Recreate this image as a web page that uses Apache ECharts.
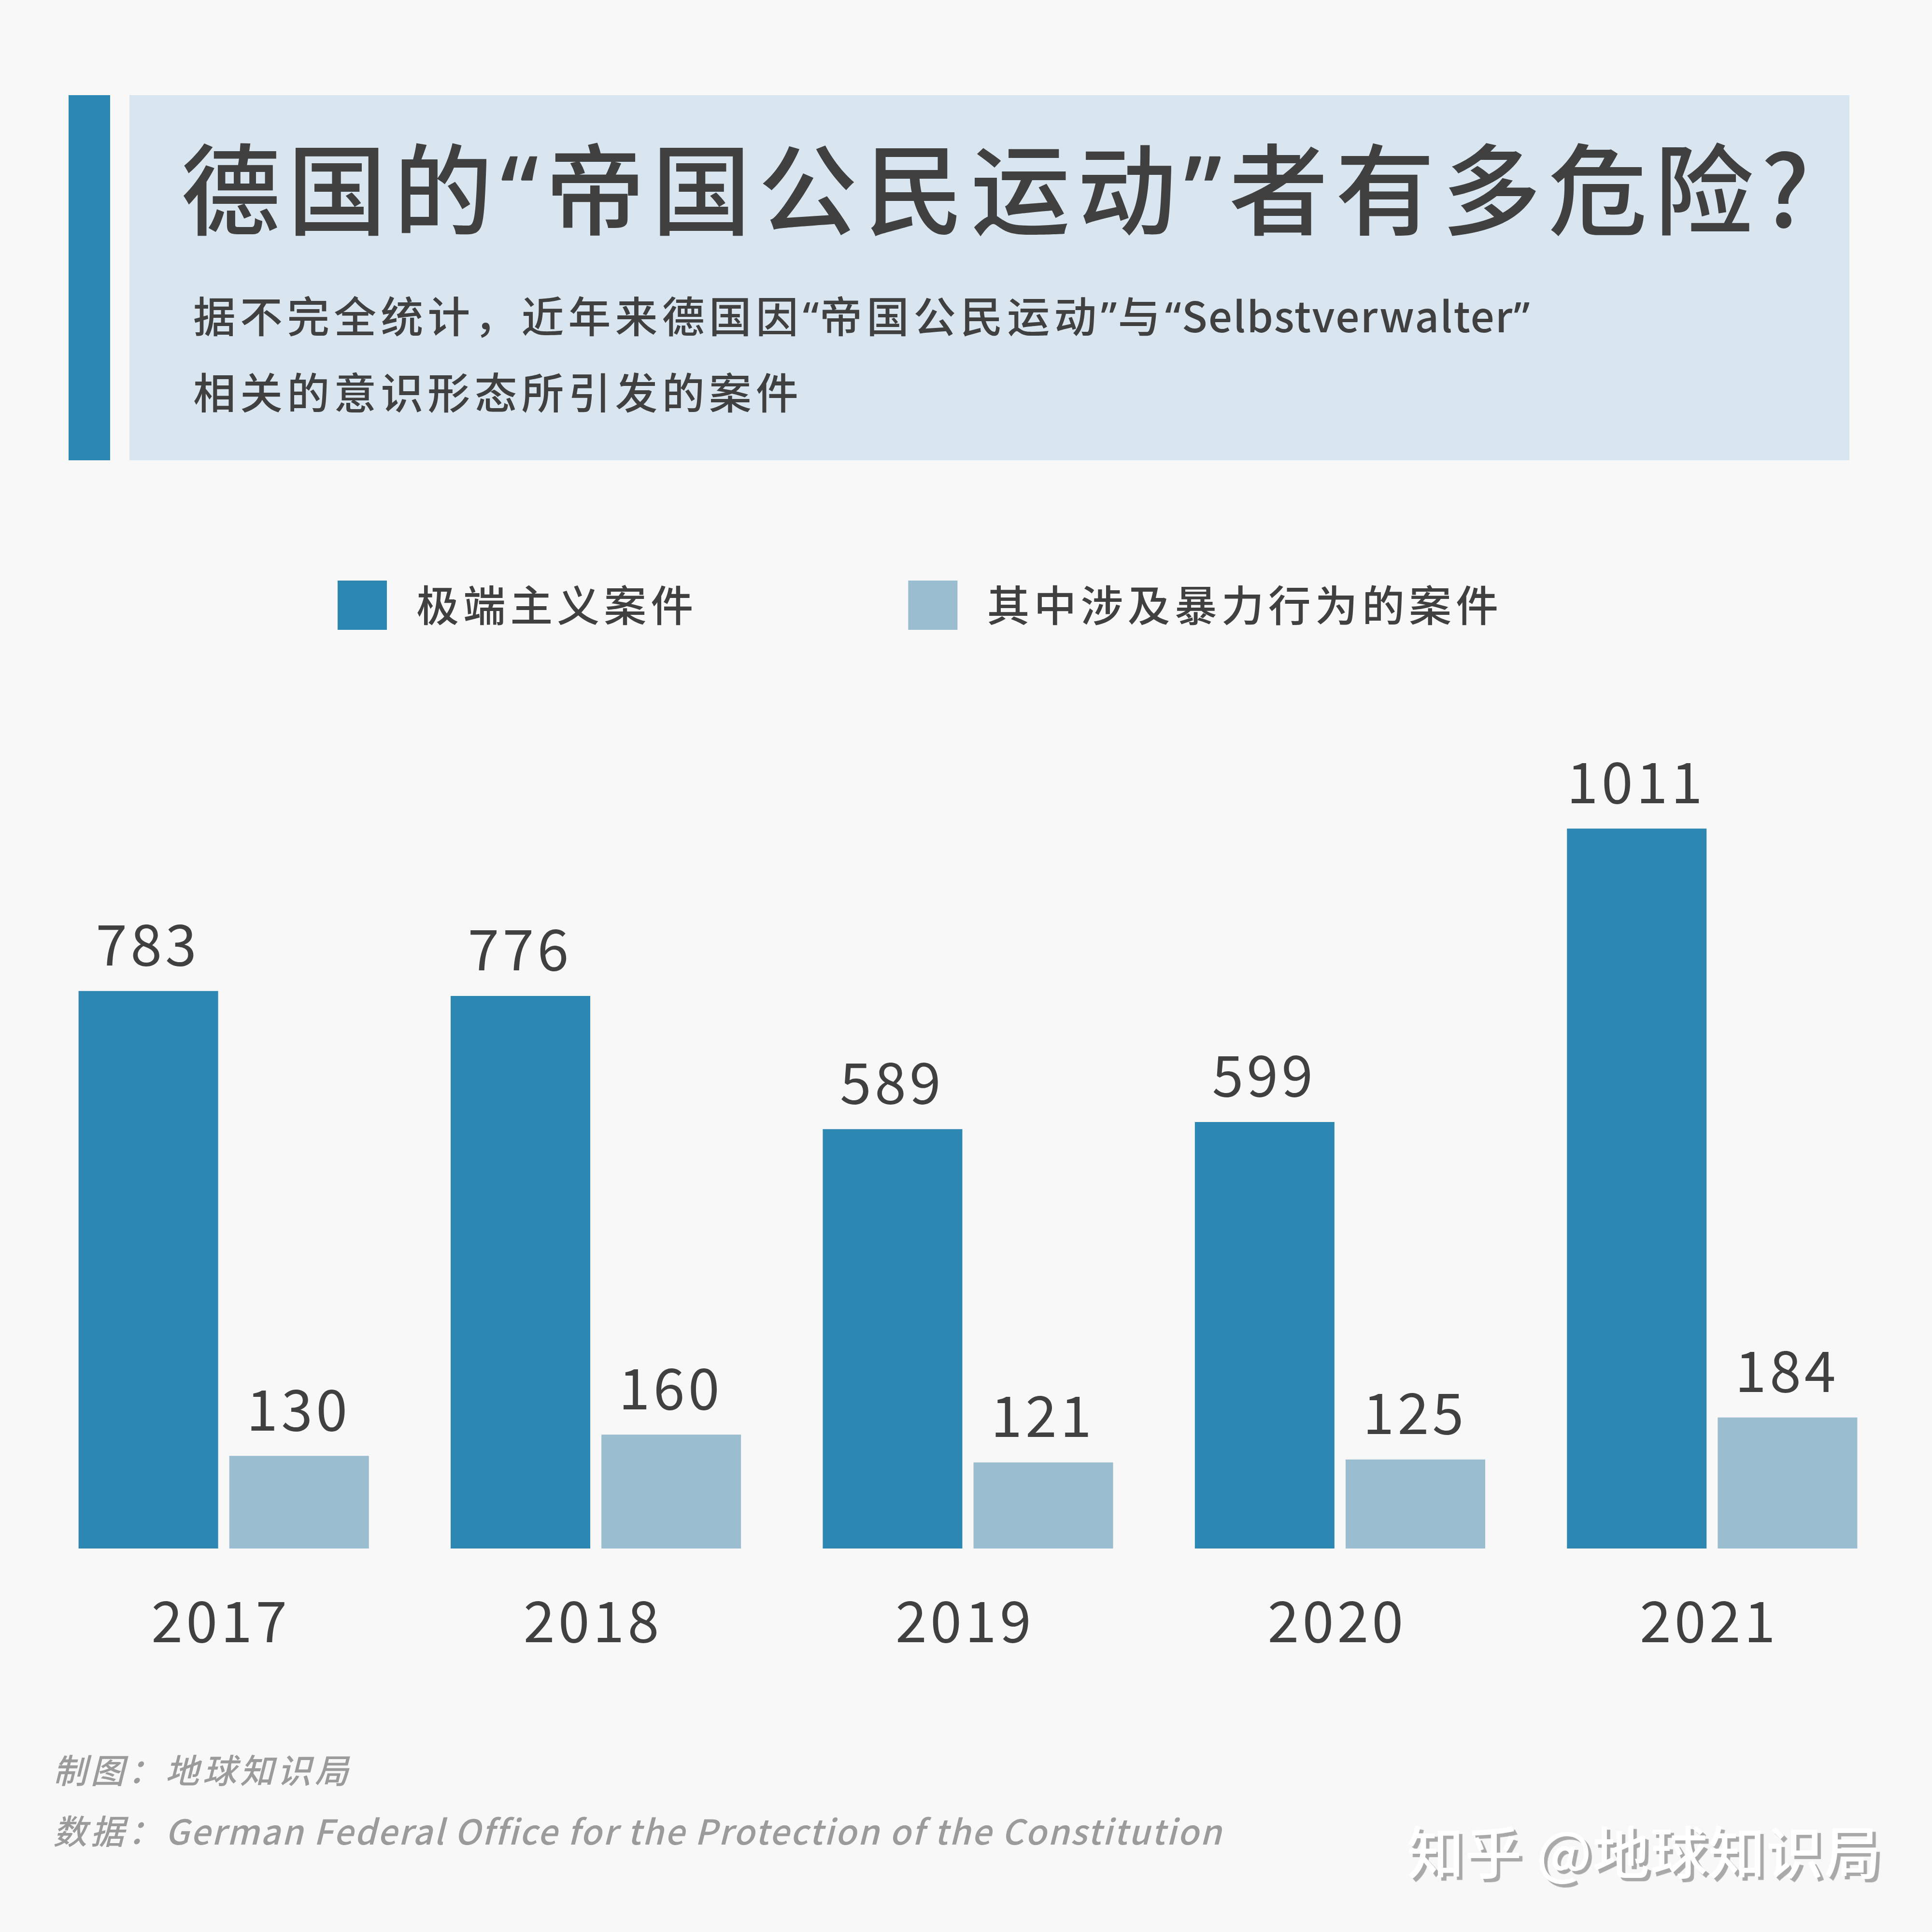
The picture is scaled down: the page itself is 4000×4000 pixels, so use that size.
<!DOCTYPE html>
<html><head><meta charset="utf-8">
<style>
@font-face{font-family:"QuoteFace";src:local("Noto Sans"),local("NotoSans-Regular");unicode-range:U+201C-201D;}
html,body{margin:0;padding:0;background:#f8f8f8}
#c{width:4000px;height:4000px}
</style>
<script src="https://cdn.jsdelivr.net/npm/echarts@6/dist/echarts.min.js"></script>
</head><body><div id="c"></div>
<script>
const years = ['2017','2018','2019','2020','2021'];
const extremistCases = [783,776,589,599,1011];
const violentCases = [130,160,121,125,184];
const seriesNames = ['极端主义案件','其中涉及暴力行为的案件'];
const titleText = '德国的“帝国公民运动”者有多危险?';
const subLine1 = '{c|据不完全统计，近年来德国因}{l|“}{c|帝国公民运动}{l|”}{c|与}{l|“Selbstverwalter”}';
const subLine2 = '相关的意识形态所引发的案件';
const creditLine = '制图：地球知识局';
const sourceLine = '{c|数据：}{l|German Federal Office for the Protection of the Constitution}';
const watermark = '知乎 @地球知识局';

const FONT = '"QuoteFace","Noto Sans CJK SC"';
const INK = '#404040', DARK = '#2c87b2', LIGHT = '#9abdcf', PANEL = '#d9e6ef', GREY = '#9b9b9b';
// tracking per font size (em) — the reference is letter-spaced
const tracking = {205:0.074, 88:0.103, 87:0.0245, 117:0.06, 70:0.105, 71:0.04, 118:0.015};
const proto = CanvasRenderingContext2D.prototype, origFill = proto.fillText, origMeasure = proto.measureText;
function applyTracking(ctx){
  const s = /(\d+(?:\.\d+)?)px/.exec(ctx.font);
  const k = s ? (tracking[Math.round(+s[1])]||0) : 0;
  ctx.letterSpacing = (k*(s?+s[1]:0))+'px';
}
proto.fillText = function(t,x,y,m){
  applyTracking(this);
  return m===undefined ? origFill.call(this,t,x,y) : origFill.call(this,t,x,y,m);
};
proto.measureText = function(t){ applyTracking(this); return origMeasure.call(this,t); };

function draw(){
  const chart = echarts.init(document.getElementById('c'),null,{renderer:'canvas',width:4000,height:4000});
  const labelStyle = {show:true,position:'top',distance:35,offset:[-1,0],color:INK,fontSize:117,fontFamily:FONT};
  const subRich = {c:{fontSize:88,fontWeight:500,color:INK,fontFamily:FONT},l:{fontSize:87,fontWeight:500,color:INK,fontFamily:FONT}};
  const srcRich = {c:{fontSize:70,fontStyle:'italic',fontWeight:500,color:GREY,fontFamily:FONT},l:{fontSize:71,fontStyle:'italic',fontWeight:500,color:GREY,fontFamily:FONT}};
  chart.setOption({
    animation:false,
    backgroundColor:'#f8f8f8',
    graphic:[
      {type:'rect',z:0,shape:{x:142,y:197,width:86,height:756},style:{fill:DARK}},
      {type:'rect',z:0,shape:{x:268,y:197,width:3561,height:756},style:{fill:PANEL}}
    ],
    title:[
      {text:titleText,left:375,top:282,padding:0,textStyle:{fontSize:205,fontWeight:500,color:INK,fontFamily:FONT}},
      {text:subLine1,left:400,top:606,padding:0,textStyle:{rich:subRich}},
      {text:subLine2,left:400,top:764,padding:0,textStyle:{fontSize:88,fontWeight:500,color:INK,fontFamily:FONT}},
      {text:creditLine,left:110,top:3627,padding:0,textStyle:{fontSize:70,fontStyle:'italic',fontWeight:500,color:GREY,fontFamily:FONT}},
      {text:sourceLine,left:110,top:3753,padding:0,textStyle:{rich:srcRich}},
      {text:watermark,left:2913,top:3775,padding:0,textStyle:{fontSize:118,fontWeight:500,color:'#ffffff',fontFamily:FONT,textShadowColor:'#a9a9a9',textShadowOffsetX:7,textShadowOffsetY:7,textShadowBlur:1}}
    ],
    legend:{
      left:699,top:1202,padding:0,itemWidth:102,itemHeight:102,itemGap:436,icon:'rect',
      data:seriesNames,
      textStyle:{fontSize:88,fontWeight:500,color:INK,fontFamily:FONT,padding:[0,0,0,56]}
    },
    grid:{left:78,width:3852,top:1437,height:1769},
    xAxis:{type:'category',data:years,
      axisLine:{show:false},axisTick:{show:false},
      axisLabel:{margin:88,color:INK,fontSize:117,fontFamily:FONT,padding:[0,12,0,0]}},
    yAxis:{type:'value',min:0,max:1200,show:false,splitLine:{show:false}},
    series:[
      {name:seriesNames[0],type:'bar',data:extremistCases,barWidth:289,barGap:'8%',itemStyle:{color:DARK},label:labelStyle},
      {name:seriesNames[1],type:'bar',data:violentCases,barWidth:289,itemStyle:{color:LIGHT},label:labelStyle}
    ]
  });
}
(document.fonts && document.fonts.load ? document.fonts.load('100px "QuoteFace"','“').catch(()=>{}) : Promise.resolve()).then(draw);
</script>
</body></html>
